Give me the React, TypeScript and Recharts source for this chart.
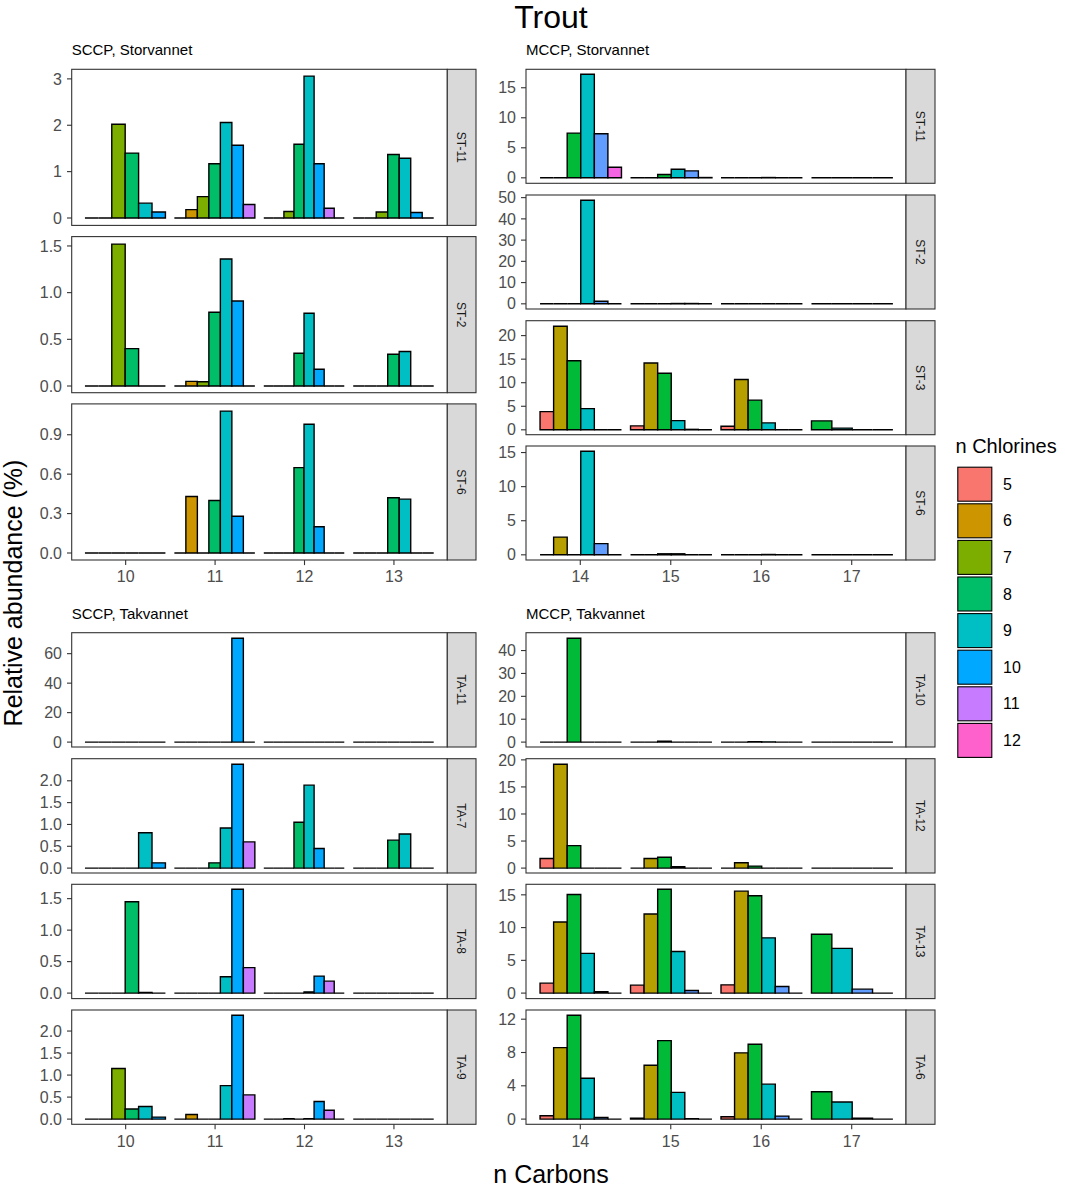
import React from 'react';
import { BarChart, Bar, XAxis, YAxis } from 'recharts';

// carbon chain lengths on the x axis
const SCCP_CARBONS = ['10', '11', '12', '13'];
const MCCP_CARBONS = ['14', '15', '16', '17'];
// index of the colour used by the first bar of each carbon group
const SCCP_FIRST_SLOT = [0, 0, 0, 0];
const MCCP_FIRST_SLOT = [0, 0, 0, 2];
const CHLORINES = ['5', '6', '7', '8', '9', '10', '11', '12'];
const SCCP_COLORS = ['#F8766D', '#CD9600', '#7CAE00', '#00BE67', '#00BFC4', '#00A9FF', '#C77CFF', '#FF61CC'];
const MCCP_COLORS = ['#F8766D', '#B79F00', '#00BA38', '#00BFC4', '#619CFF', '#F564E3'];

// relative abundance (%) per carbon group, one value per bar
const SCCP_ST11 = [
  [0, 0, 2.02, 1.4, 0.32, 0.13],
  [0, 0.18, 0.46, 1.17, 2.06, 1.57, 0.29],
  [0, 0, 0.14, 1.59, 3.06, 1.17, 0.21, 0],
  [0, 0, 0.13, 1.37, 1.29, 0.12, 0],
];
const SCCP_ST2 = [
  [0, 0, 1.52, 0.4, 0, 0],
  [0, 0.05, 0.045, 0.79, 1.36, 0.91, 0],
  [0, 0, 0, 0.35, 0.78, 0.18, 0, 0],
  [0, 0, 0, 0.34, 0.37, 0, 0],
];
const SCCP_ST6 = [
  [0, 0, 0, 0, 0, 0],
  [0, 0.43, 0, 0.4, 1.08, 0.28, 0],
  [0, 0, 0, 0.65, 0.98, 0.2, 0, 0],
  [0, 0, 0, 0.42, 0.41, 0, 0],
];
const SCCP_TA11 = [
  [0, 0, 0, 0, 0, 0],
  [0, 0, 0, 0, 0, 70.5, 0],
  [0, 0, 0, 0, 0, 0, 0, 0],
  [0, 0, 0, 0, 0, 0, 0],
];
const SCCP_TA7 = [
  [0, 0, 0, 0, 0.81, 0.12],
  [0, 0, 0, 0.12, 0.92, 2.38, 0.6],
  [0, 0, 0, 1.05, 1.9, 0.45, 0, 0],
  [0, 0, 0, 0.64, 0.78, 0, 0],
];
const SCCP_TA8 = [
  [0, 0, 0, 1.45, 0.01, 0],
  [0, 0, 0, 0, 0.26, 1.65, 0.405],
  [0, 0, 0, 0, 0.02, 0.27, 0.19, 0],
  [0, 0, 0, 0, 0, 0, 0],
];
const SCCP_TA9 = [
  [0, 0, 1.15, 0.23, 0.285, 0.045],
  [0, 0.105, 0, 0, 0.76, 2.36, 0.55],
  [0, 0, 0.01, 0, 0.01, 0.4, 0.2, 0],
  [0, 0, 0, 0, 0, 0, 0],
];
const MCCP_ST11 = [
  [0, 0, 7.45, 17.26, 7.34, 1.77],
  [0, 0, 0.55, 1.43, 1.16, 0.05],
  [0, 0, 0, 0.05, 0, 0],
  [0, 0, 0, 0],
];
const MCCP_ST2 = [
  [0, 0, 0, 48.8, 1.2, 0],
  [0, 0, 0, 0.15, 0.15, 0],
  [0, 0, 0, 0, 0, 0],
  [0, 0, 0, 0],
];
const MCCP_ST3 = [
  [3.86, 22.0, 14.67, 4.49, 0, 0],
  [0.84, 14.2, 12.0, 1.96, 0.1, 0],
  [0.77, 10.67, 6.3, 1.47, 0, 0],
  [1.9, 0.35, 0, 0],
];
const MCCP_ST6 = [
  [0, 2.6, 0, 15.2, 1.64, 0],
  [0, 0, 0.15, 0.15, 0, 0],
  [0, 0, 0, 0.05, 0, 0],
  [0, 0, 0, 0],
];
const MCCP_TA10 = [
  [0, 0, 45.4, 0, 0, 0],
  [0, 0, 0.4, 0, 0, 0],
  [0, 0, 0.15, 0.1, 0, 0],
  [0, 0, 0, 0],
];
const MCCP_TA12 = [
  [1.77, 19.2, 4.15, 0, 0, 0],
  [0, 1.77, 2.0, 0.25, 0, 0],
  [0, 0.98, 0.37, 0, 0, 0],
  [0, 0, 0, 0],
];
const MCCP_TA13 = [
  [1.52, 10.86, 15.05, 6.06, 0.2, 0],
  [1.21, 12.07, 15.86, 6.36, 0.4, 0],
  [1.26, 15.56, 14.85, 8.43, 1.01, 0],
  [8.99, 6.82, 0.6, 0],
];
const MCCP_TA6 = [
  [0.4, 8.59, 12.48, 4.91, 0.2, 0],
  [0.1, 6.46, 9.43, 3.21, 0.05, 0],
  [0.28, 7.96, 8.99, 4.2, 0.36, 0],
  [3.29, 2.06, 0.1, 0],
];

// y tick labels per panel
const SCCP_ST11_TICKS = ['0', '1', '2', '3'];
const SCCP_ST2_TICKS = ['0.0', '0.5', '1.0', '1.5'];
const SCCP_ST6_TICKS = ['0.0', '0.3', '0.6', '0.9'];
const SCCP_TA11_TICKS = ['0', '20', '40', '60'];
const SCCP_TA7_TICKS = ['0.0', '0.5', '1.0', '1.5', '2.0'];
const SCCP_TA8_TICKS = ['0.0', '0.5', '1.0', '1.5'];
const SCCP_TA9_TICKS = ['0.0', '0.5', '1.0', '1.5', '2.0'];
const MCCP_ST11_TICKS = ['0', '5', '10', '15'];
const MCCP_ST2_TICKS = ['0', '10', '20', '30', '40', '50'];
const MCCP_ST3_TICKS = ['0', '5', '10', '15', '20'];
const MCCP_ST6_TICKS = ['0', '5', '10', '15'];
const MCCP_TA10_TICKS = ['0', '10', '20', '30', '40'];
const MCCP_TA12_TICKS = ['0', '5', '10', '15', '20'];
const MCCP_TA13_TICKS = ['0', '5', '10', '15'];
const MCCP_TA6_TICKS = ['0', '4', '8', '12'];

const FONT = '"Liberation Sans", Arial, sans-serif';
const Y_W = 60;
const EDGE = 12; // room above/below each panel so edge tick labels are not clipped
const LEFT = { x: 71.7, w: 375.6, strip: 28.7 };
const RIGHT = { x: 526, w: 380, strip: 29 };

const PANELS = [
  { name: 'ST-11', values: SCCP_ST11, ticks: SCCP_ST11_TICKS, kind: 'SCCP', col: LEFT, top: 69.3, h: 156.1, axis: false },
  { name: 'ST-2', values: SCCP_ST2, ticks: SCCP_ST2_TICKS, kind: 'SCCP', col: LEFT, top: 236.6, h: 156.1, axis: false },
  { name: 'ST-6', values: SCCP_ST6, ticks: SCCP_ST6_TICKS, kind: 'SCCP', col: LEFT, top: 403.9, h: 156.1, axis: true },
  { name: 'ST-11', values: MCCP_ST11, ticks: MCCP_ST11_TICKS, kind: 'MCCP', col: RIGHT, top: 69.3, h: 114, axis: false },
  { name: 'ST-2', values: MCCP_ST2, ticks: MCCP_ST2_TICKS, kind: 'MCCP', col: RIGHT, top: 195, h: 114, axis: false },
  { name: 'ST-3', values: MCCP_ST3, ticks: MCCP_ST3_TICKS, kind: 'MCCP', col: RIGHT, top: 320.7, h: 114, axis: false },
  { name: 'ST-6', values: MCCP_ST6, ticks: MCCP_ST6_TICKS, kind: 'MCCP', col: RIGHT, top: 446, h: 114, axis: true },
  { name: 'TA-11', values: SCCP_TA11, ticks: SCCP_TA11_TICKS, kind: 'SCCP', col: LEFT, top: 632.7, h: 114.3, axis: false },
  { name: 'TA-7', values: SCCP_TA7, ticks: SCCP_TA7_TICKS, kind: 'SCCP', col: LEFT, top: 758.7, h: 114.3, axis: false },
  { name: 'TA-8', values: SCCP_TA8, ticks: SCCP_TA8_TICKS, kind: 'SCCP', col: LEFT, top: 884.3, h: 114.3, axis: false },
  { name: 'TA-9', values: SCCP_TA9, ticks: SCCP_TA9_TICKS, kind: 'SCCP', col: LEFT, top: 1010, h: 114.3, axis: true },
  { name: 'TA-10', values: MCCP_TA10, ticks: MCCP_TA10_TICKS, kind: 'MCCP', col: RIGHT, top: 632.7, h: 114.3, axis: false },
  { name: 'TA-12', values: MCCP_TA12, ticks: MCCP_TA12_TICKS, kind: 'MCCP', col: RIGHT, top: 758.7, h: 114.3, axis: false },
  { name: 'TA-13', values: MCCP_TA13, ticks: MCCP_TA13_TICKS, kind: 'MCCP', col: RIGHT, top: 884.3, h: 114.3, axis: false },
  { name: 'TA-6', values: MCCP_TA6, ticks: MCCP_TA6_TICKS, kind: 'MCCP', col: RIGHT, top: 1010, h: 114.3, axis: true },
];

// one row per carbon group; each group dodges over its own number of bars
function buildRows(values: number[][], carbons: string[], first: number[]) {
  return carbons.map((c, gi) => {
    const row: any = { carbon: c, first: first[gi] };
    const n = values[gi].length;
    values[gi].forEach((v, k) => {
      row[`n${n}_${k}`] = v;
    });
    return row;
  });
}

function drawBar(p: any, key: string, slot: number, colors: string[]) {
  const row = p.payload;
  if (!row || row[key] === undefined || !isFinite(p.y) || !isFinite(p.x)) return <g />;
  const top = Math.min(p.y, p.y + p.height);
  const h = Math.abs(p.height || 0);
  return (
    <path
      d={`M${p.x},${top}h${p.width}v${h}h${-p.width}Z`}
      fill={colors[row.first + slot]}
      stroke="#000"
      strokeWidth={1.4}
    />
  );
}

function Panel({ p }: { p: any }) {
  const sccp = p.kind === 'SCCP';
  const carbons = sccp ? SCCP_CARBONS : MCCP_CARBONS;
  const colors = sccp ? SCCP_COLORS : MCCP_COLORS;
  const rows = buildRows(p.values, carbons, sccp ? SCCP_FIRST_SLOT : MCCP_FIRST_SLOT);
  const counts: number[] = Array.from(new Set(p.values.map((g: number[]) => g.length)));
  const tickVals = p.ticks.map(Number);
  const max = Math.max(...p.values.flat());
  const band = p.col.w / 4.2;
  const pad = band * 0.1;
  const axisH = p.axis ? 30 : 0;

  return (
    <div style={{ position: 'absolute', left: p.col.x - Y_W, top: p.top - EDGE }}>
      <BarChart
        width={Y_W + p.col.w}
        height={p.h + axisH + 2 * EDGE}
        data={rows}
        margin={{ top: EDGE, right: 0, bottom: EDGE, left: 0 }}
        barGap={0}
      >
        {counts.map((n) => (
          <XAxis key={`ax${n}`} xAxisId={`n${n}`} dataKey="carbon" type="category" hide padding={{ left: pad, right: pad }} />
        ))}
        {p.axis && (
          <XAxis
            xAxisId="lab"
            dataKey="carbon"
            type="category"
            padding={{ left: pad, right: pad }}
            height={30}
            interval={0}
            axisLine={false}
            tickSize={5}
            tickMargin={6}
            tickLine={{ stroke: '#333333', strokeWidth: 1.1 }}
            tick={{ fill: '#4D4D4D', fontSize: 16, fontFamily: FONT }}
          />
        )}
        <YAxis
          type="number"
          width={Y_W}
          domain={[-0.05 * max, 1.05 * max]}
          allowDataOverflow
          ticks={tickVals}
          interval={0}
          tickFormatter={(v: number) => p.ticks[tickVals.indexOf(v)] ?? String(v)}
          axisLine={false}
          tickSize={5}
          tickMargin={5}
          tickLine={{ stroke: '#333333', strokeWidth: 1.1 }}
          tick={{ fill: '#4D4D4D', fontSize: 16, fontFamily: FONT }}
        />
        {counts.flatMap((n) =>
          Array.from({ length: n }, (_, k) => {
            const key = `n${n}_${k}`;
            return (
              <Bar
                key={key}
                xAxisId={`n${n}`}
                dataKey={key}
                barSize={(0.9 * band) / n}
                isAnimationActive={false}
                shape={(sp: any) => drawBar(sp, key, k, colors)}
              />
            );
          })
        )}
      </BarChart>
    </div>
  );
}

export default function App() {
  return (
    <div style={{ position: 'absolute', left: 0, top: 0, width: 1065, height: 1189, background: '#fff', fontFamily: FONT }}>
      {PANELS.map((p, i) => (
        <Panel key={i} p={p} />
      ))}
      <svg width={1065} height={1189} style={{ position: 'absolute', left: 0, top: 0, pointerEvents: 'none' }} fontFamily={FONT}>
        {PANELS.map((p, i) => (
          <g key={i}>
            <rect x={p.col.x} y={p.top} width={p.col.w} height={p.h} fill="none" stroke="#333333" strokeWidth={1.1} />
            <rect x={p.col.x + p.col.w} y={p.top} width={p.col.strip} height={p.h} fill="#D9D9D9" stroke="#333333" strokeWidth={1.1} />
            <text
              transform={`translate(${p.col.x + p.col.w + p.col.strip / 2}, ${p.top + p.h / 2}) rotate(90)`}
              textAnchor="middle"
              dy="0.35em"
              fontSize={12}
              fill="#1A1A1A"
            >
              {p.name}
            </text>
          </g>
        ))}
        <text x={551} y={28} textAnchor="middle" fontSize={32} fill="#000">Trout</text>
        <text x={LEFT.x} y={55} fontSize={15} fill="#000">SCCP, Storvannet</text>
        <text x={RIGHT.x} y={55} fontSize={15} fill="#000">MCCP, Storvannet</text>
        <text x={LEFT.x} y={618.5} fontSize={15} fill="#000">SCCP, Takvannet</text>
        <text x={RIGHT.x} y={618.5} fontSize={15} fill="#000">MCCP, Takvannet</text>
        <text transform="translate(21.5, 593) rotate(-90)" textAnchor="middle" fontSize={25} fill="#000">
          Relative abundance (%)
        </text>
        <text x={551} y={1183} textAnchor="middle" fontSize={25} fill="#000">n Carbons</text>
        <text x={955.5} y={453} fontSize={20} fill="#000">n Chlorines</text>
        {CHLORINES.map((c, i) => (
          <g key={c}>
            <rect x={957.8} y={467.2 + i * 36.6} width={34} height={34} fill={SCCP_COLORS[i]} stroke="#000" strokeWidth={1.1} />
            <text x={1003} y={484.2 + i * 36.6} dy="0.35em" fontSize={16} fill="#000">{c}</text>
          </g>
        ))}
      </svg>
    </div>
  );
}
